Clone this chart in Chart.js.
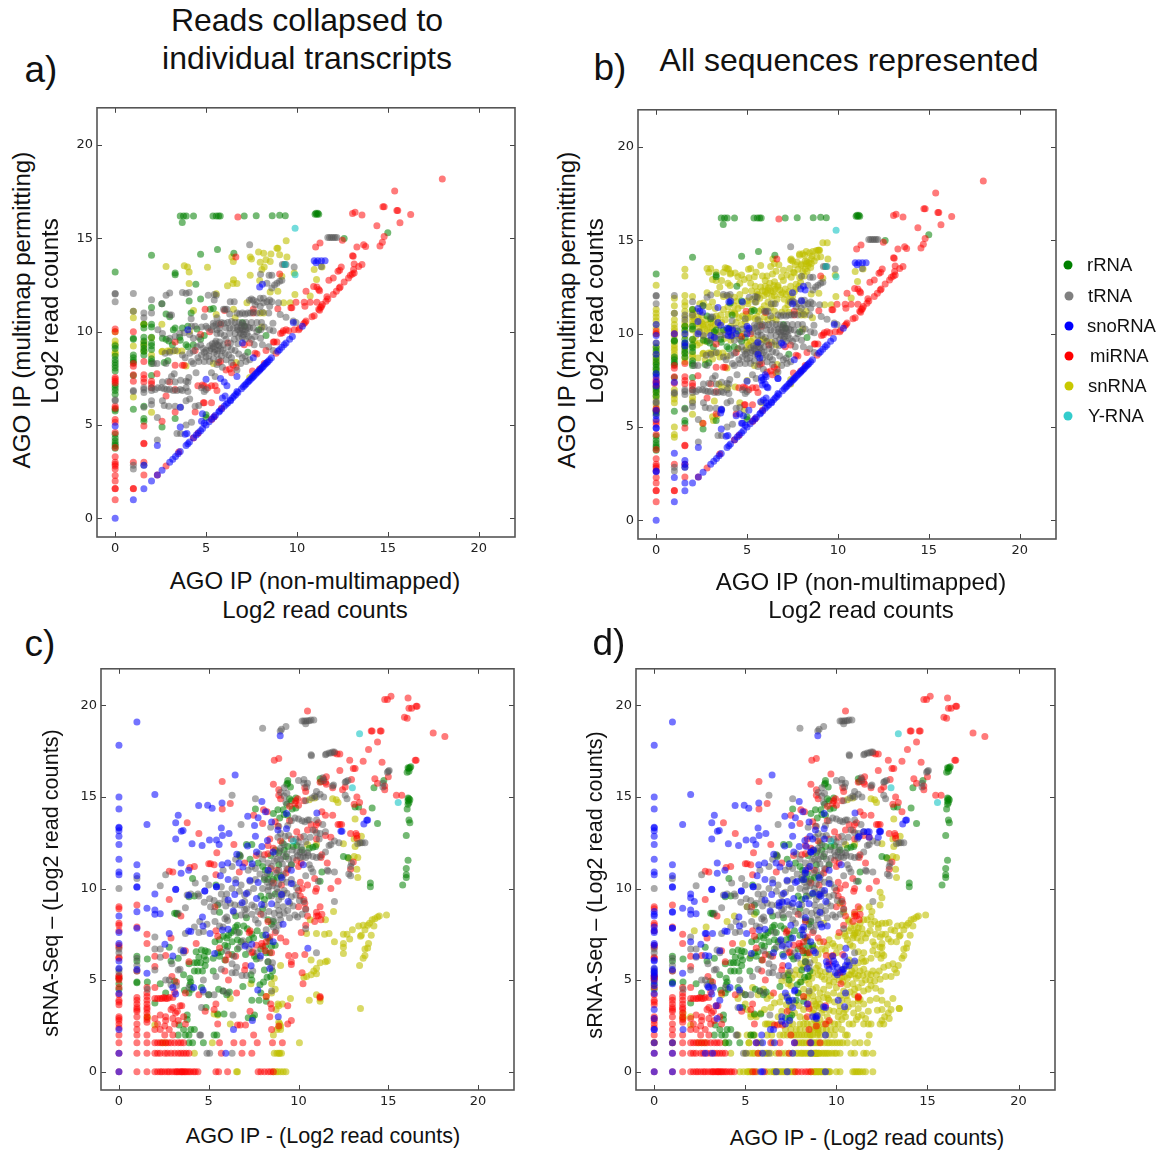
<!DOCTYPE html>
<html lang="en">
<head>
<meta charset="UTF-8" />
<title>AGO IP read counts</title>
<style>
  html, body { margin: 0; padding: 0; background: #fff; }
  #page { position: relative; width: 1160px; height: 1153px; overflow: hidden; font-family: 'Liberation Sans', Arial, sans-serif; color: #111; }
  canvas { position: absolute; }
  .txt { position: absolute; white-space: nowrap; transform: translate(-50%, -50%); }
  .rot { transform: translate(-50%, -50%) rotate(-90deg); }
  .dot { position: absolute; width: 9px; height: 9px; border-radius: 50%; transform: translate(-50%, -50%); }
  .leg { position: absolute; font-size: 18.5px; white-space: nowrap; transform: translateY(-50%); }
</style>
</head>
<body>
<div id="page"></div>
<script src="https://cdn.jsdelivr.net/npm/chart.js"></script>
<script>
// tick labels
const tickValues = [0, 5, 10, 15, 20];

// legend
const legendNames = ['rRNA', 'tRNA', 'snoRNA', 'miRNA', 'snRNA', 'Y-RNA'];

// panels a and b share most of their points, b only adds to them
const abRrna = [[3.58,16.2],[3.76,16.2],[3.91,16.2],[4.31,16.2],[5.38,16.2],[5.56,16.2],[5.69,16.2],[5.78,16.2],[7.1,16.2],[7.76,16.22],[8.64,16.22],[9.05,16.24],[9.36,16.22],[3.69,15.85],
  [11,16.3],[11.05,16.35],[11.1,16.3],[11.15,16.35],[11.2,16.3],[12.6,15],[15,15.3],[2,14.1],[0,13.2],[4.7,14.15],[5.63,14.4],[6.53,14.2],[3.3,13.15],[3.3,13.05],[4.44,12.55],[2.57,11.5],[4.07,11.65],[4.7,11.75],[2,11.3],[2.8,10.95],[3,10.8],[4.18,11],[5.23,11.2],[5.4,11.25],
  [1.58,10.4],[2,10.4],[2,10.25],[1.58,10.2],[3.2,10.1],[3.3,10.2],[3.7,10.2],[4,10.3],[4.5,10.15],[7,10.5],[7.1,10.3],
  [0,8.5],[0,8.35],[0,8.2],[0,8.05],[0,7.9],[0,7],[0,6.85],[0,6.65],[0,5.85],[0,5.75],[0,4.3],[0,4.15],[0,4],[0,3.9],[0,3.75],[1,9.6],[1,9.65],[1,8.6],[1,8.45],[1,8.35],[1,7.65],[1,5.85],[1.58,9.7],[1.58,9.5],[1.58,9.3],[1.58,9.1],[1.58,8.95],[1.58,6],[1.58,5.35],[1.58,5.2],[2,9.7],[2,9.4],[2,9.25],[2,8.4],[2,8.3],[2,7.65],[2.58,4.9],[2.6,9.65],[2.8,9.6],[2.95,9.5],[2.7,8.35],[2.9,8.45],[3.15,9.3],[3.55,9.7],[3.58,9.55],[3.9,9.3],[4,9.2],[4.3,9.3],[3.3,5.35],[4.7,9.6],[4.9,9.8],[5,5.55],[5,5.4],[7.3,8.9],[7.9,10.1],[8.3,9.8],[0,9.1],[0,9.25],[0,8.7],[0,7.15],[0,4.5],[1,8.75],[1.58,8.75],[2,9.05],[2,8.55]];
const abTrna = [[11.7,15.05],[11.8,15.05],[11.9,15.05],[12,15.05],[12.1,15.05],[12.2,15.05],[7.4,14.66],[9.2,13.6],[9.3,13.6],[9.4,13.6],[9.85,13.47],[11.34,13.5],[8,13.08],[8.47,13.03],[8.62,13.03],[9.17,12.76],[9.05,12.7],[8.9,12.6],[8.77,12.5],[8.62,12.35],[8.35,12.6],[0,12.05],[0,12.02],[0,11.6],[1,12.05],[2,11.72],[3,12.07],[2.8,11.96],[3.7,12.1],[3.9,12.06],[4.07,12.1],[5.12,11.96],[5.45,12],[5.56,11.96],[5.45,11.7],[2.57,11.5],[6.33,11.6],[6.55,11.6],
  [7.39,11.69],[7.5,11.75],[7.6,11.69],[7.8,11.6],[7.98,11.8],[8.16,11.8],[8.35,11.6],[8.5,11.7],[8.62,11.6],[8.99,11.55],[7.98,11.37],[8.16,11.55],[8.5,11.37],[7.7,11.45],[6.7,11],[6.85,10.95],[7,11],[7.15,10.95],[7.3,11],[7.45,11],[7.6,11.05],[7.8,11],[8.1,11.05],[8.45,11],[5.96,11.2],[6.05,11.2],[6.15,11.2],[6.3,10.95],[5.6,10.75],[9.08,10.93],[9.4,10.78],[9.8,10.57],[9.95,10.5],[8.68,10.45],[5.4,10.45],[5.55,10.4],[5.7,10.45],[5.85,10.5],[6,10.45],[6.2,10.5],[6.4,10.55],[6.6,10.5],[6.8,10.5],[7,10.45],[7.2,10.5],[7.5,10.5],[7.8,10.5],[8.05,10.5],
  [1,11.1],[1.58,10.75],[1.58,11],[2,11],[3,10.9],[3.1,10.9],[4.18,10.7],[4.9,10.8],[4.2,10.3],[4.4,10.3],[4.75,10.25],[5,10.3],[5.1,10.2],[5.3,10.1],[5.4,10.3],[5.6,10.1],[5.75,10.2],[6.1,10.2],[6.3,10.2],[6.5,10.2],[6.7,10.25],[6.75,10.1],[6.9,10.2],[7,10.1],[7.1,10],[7.2,10.1],[7.25,9.9],[6.9,9.9],[6.8,9.7],[7,9.7],[6.6,9.9],[6.3,9.9],[6,9.8],[5.8,9.9],[5.6,9.9],[7.4,10.2],[7.6,10.2],[7.8,10],[8,10.1],[8.2,10.25],[8.5,10.1],[8.7,10.05],[5.5,9.4],[5.6,9.3],[5.7,9.25],[5.4,9.2],[5.3,9.1],[5.5,9.05],[5.65,9],[5.8,9.1],[5.9,9],[5.45,8.9],[5.6,8.8],[5.2,9],[5,9],[4.9,8.9],[4.75,8.75],[4.55,8.6],[6.2,9.2],[6.4,9.05],[6.6,9],[6.8,8.8],[7,8.6],[7.15,8.7],[7.4,8.5],[6.4,8.6],[6.1,8.5],[5.7,8.5],[5.2,8.4],[4.9,8.4],[4.6,8.4],[4.3,8.3],[6.4,8.35],[5.9,8.1],[5.3,7.8],[5.5,7.6],[4.45,7.8],[3.25,7.75],[3.1,7.6],[2.8,8.3],[2.3,8.3],[2.1,8.3],[7.65,9.3],[8.1,9.3],[8.45,9.2],[8.7,9],
  [0,6.3],[0,6.35],[1,6.85],[1,6.8],[1.58,7],[1.58,6.9],[1.58,6.75],[1.58,5.95],[2,7],[2,6.85],[2.2,6.9],[2.35,7],[2.55,7],[2.7,6.95],[2.85,6.9],[3,6.9],[3.2,6.85],[3.4,6.85],[3.58,6.9],[3.7,6.85],[2.6,7.3],[2.9,7.35],[3.3,7.3],[3.6,7.4],[3.9,7.35],[4,7.3],[3.9,7],[4,6.8],[5,6.9],[4.75,7],[4.9,6.8],[4.1,6.4],[3.9,6.3],[2,6.3],[2.6,6.3],[2.7,6.05],[2.95,6],[3.3,6],[3.6,5.95],[4.4,6],[4.6,6.05],[2.32,5.4],[3.9,5],[4.2,5.15],[3.4,4.55],[3.6,4.55],[2.32,4.2],[1,2.85],[1,2.65],[1.58,2.85],[2,6.1],
  [5.55,9.5],[5.35,9.35],[5.2,9.25],[5.75,9.45],[5.95,9.3],[6.1,9.6],[6.35,9.4],[6.55,9.6],[6.75,9.35],[7.15,9.6],[7.35,9.75],[7.5,9.6],[7.7,9.75],[8,9.65],[6.95,10.35],[7.15,10.3],[6.85,10.05],[7.05,9.85],[7.3,10.25],[4.5,9.2],[4.7,9.3],[4.85,9.1],[4.1,8.85],[4.3,8.95],[3.7,8.75],[3.3,9],[3,8.9],[2.75,8.85],[3.85,8.6],[4.2,8.4],[4.05,7.55],[6.9,8.3],[7.2,8.4],[6.7,7.95],[5.6,8.25],[5.85,8.7],[6.05,8.85],[6.25,8.75],[5,8.65],[5.15,8.7],[5.4,8.55],[4.6,9.7],[4.3,9.65],[4.1,9.85],[3.8,9.95],[3.55,9.9],[3.3,9.75],[3,9.65],[2.6,9.9],[2.35,10.1]];
const abSnorna = [[10.95,13.8],[11.05,13.7],[11.15,13.8],[11.35,13.8],[11.55,13.8],[7.95,12.4],[8.1,12.55],[0,4.95],[4,10.1],[7,9.4],[7.6,8.6],[9.8,10.5],[5,7.45],[5.8,7.5],[6,7.3],[6.15,7.1],[6.7,7.6],[6.7,6.8],[5.9,6.45],[6.05,6.55],[6.35,6.3],[3.58,5.95],[4.8,5.6],[4.75,5.2],[4.9,5.1],[3.58,4.9],[3.85,4.5],[3.95,4.55],[2.32,3.9],[1.58,2.85],[1.58,1.58],[1,1],[0,0],[2,2],[2.32,2.32],[2.58,2.58],[3,3],[3.17,3.17],[3.32,3.32],[3.46,3.46],[3.58,3.58],[3.9,3.9],[4,4],[4.09,4.09],[4.32,4.32],[4.46,4.46],[4.58,4.58],[4.7,4.7],[4.81,4.81],[5,5],[5.17,5.17],[5.32,5.32],[5.43,5.43],[5.52,5.52],[5.7,5.7],[5.75,5.75],[5.86,5.86],[6,6],[6.11,6.11],[6.2,6.2],[6.34,6.34],[6.46,6.46],[6.55,6.55],[6.64,6.64],[6.75,6.75],[6.95,6.95],[7.05,7.05],[7.13,7.13],[7.2,7.2],[7.3,7.3],[7.36,7.36],[7.44,7.44],[7.52,7.52],[7.58,7.58],[7.64,7.64],[7.72,7.72],[7.8,7.8],[7.87,7.87],[7.94,7.94],[8,8],[8.07,8.07],[8.13,8.13],[8.2,8.2],[8.28,8.28],[8.35,8.35],[8.41,8.41],[8.5,8.5],[8.6,8.6],[8.95,8.95],[9.04,9.04],[9.17,9.17],[9.3,9.3],[9.4,9.4],[9.6,9.6],[9.75,9.75],[10.3,10.3]];
const abMirna = [[18,18.18],[15.38,17.54],[14.73,16.7],[14.8,16.7],[15.5,16.5],[15.55,16.5],[16.26,16.28],[13.58,16.26],[13.2,16.4],[13.06,16.33],[14.4,15.68],[15.67,15.84],[14.8,15.1],[14.7,14.8],[14.57,14.6],[12.5,14.9],[13.3,14.54],[13.67,14.66],[13.78,14.57],[11.27,14.75],[11.03,14.54],[13.06,14.07],[13.1,14.05],[13.15,13.63],[13.58,13.6],[13.4,13.49],[12.44,13.47],[12.26,13.24],[12.35,13.3],[13.12,13.33],[13.15,13.15],[13.05,13.1],[12.94,13.03],[12.84,12.88],[12.6,12.67],[12,12.88],[11.76,12.76],[12.33,12.35],[12.38,12.4],[12.17,12.17],[12,12],[11.65,11.87],[11.7,11.75],[11.6,11.64],[11.4,11.46],[11.3,11.3],[11.35,11.35],[11.2,11.2],[11.25,11.15],[10.95,10.85],[10.83,10.8],[10.5,10.57],[10.45,10.5],[10.37,10.43],[10.15,10.18],[10.1,10.1],[10.92,12.42],[11.1,12.4],[11.2,12.26],[11.25,12.2],[10.5,12.17],[9.95,11.58],[10.4,11.58],[10.44,11.37],[10.73,11.58],[11.1,11.58],[9.67,11.28],[9.72,11.28],[9.05,13.1],[8.95,11.23],[6.64,14],[6.75,16.15],[6.02,11.14],[7.6,11],[7.6,11.2],[4.95,11.2],
  [0,10.15],[0,10],[1,10],[0,7.55],[0,7.45],[0,7.35],[0,7.25],[0,6],[0,5.9],[0,5.3],[0,5.15],[0,4.6],[0,3.8],[0,3.3],[0,3],[0,2.9],[0,2.8],[0,2.65],[0,2.3],[0,2],[0,1.6],[0,1.58],[0,1],[1,8.3],[1,8.15],[1,7.7],[1,7.35],[1,3],[1,1.58],[1,1.6],[1.58,8.4],[1.58,7.7],[1.58,7.5],[1.58,7.3],[1.58,4.95],[1.58,4],[1.58,4.02],[1.58,3],[1.58,2.32],[2,7.35],[2,7.2],[2,7],[2.3,7.75],[2.58,5.2],[2.8,6.55],[3,7.3],[3.3,6.9],[3.3,8.2],[3.7,8.2],[3.8,8.2],[3.3,5.7],[3.3,9.45],[4.4,9],[4.55,7.1],[4.8,7.15],[4.9,7.1],[5.1,7],[5.3,7.1],[5.5,7.1],[5.6,6.85],[4.4,5.7],[4.85,6.2],[4.9,6.2],[5.3,6.2],[4.7,9.85],[5.2,10],[5.8,10.4],[6.2,9.4],[5.7,8.35],[5.8,8.4],[6.1,7.95],[6.4,7.8],[6.3,8],[6.65,8.1],[6.5,8.2],[7.1,9.3],[7.4,9.4],[7.7,8.85],[7.8,8.8],[8.3,9],[8.7,9.45],[8.75,9.45],[8.9,9.45],[9.1,9.9],[9.2,9.95],[9.25,10.05],[9.4,10.1],[9.55,10.05],[9.85,10.1],[8.2,8.3],[7.55,7.9],[7.95,8],[3.5,3.55],[4.3,4.3],[4.55,4.55],[5.3,5.3],[5.85,5.9],[2.8,2.8],[2.32,2.32],[5.45,5.45],[8.85,8.85]];
const abSnrna = [[9.41,14.88],[8.9,14.47],[8.95,14.48],[7.89,14.27],[8.17,14.2],[8.57,14.17],[9.05,14.13],[9.45,14],[7.43,14],[7.5,13.9],[6.42,14],[6.5,13.77],[7.98,13.72],[8.3,13.86],[8.53,13.77],[8.2,13.47],[8.07,13.33],[2.8,13.5],[3.8,13.54],[3.98,13.47],[4.07,13.2],[5.08,13.45],[7.43,13.03],[7.95,12.74],[9.17,12.97],[4.07,12.58],[6.18,12.47],[6.51,12.78],[6.48,12.58],[6.7,12.58],[9.85,13.15],[10.95,13.33],[11.38,13.47],[11.08,12.8],[8.95,12.17],[8.53,12.13],[9.89,12],[5.56,12.03],[10.73,11.92],[7.25,11.55],[9.27,11.55],[9.63,11.55],[1,11.1],[1,10.75],[4.31,11.14],[1.58,10.4],[2.57,10.4],[6.51,11.2],[5.56,10.93],[6.6,10.75],[7.98,11],[8.17,11],
  [2.57,8.93],[2.6,8.95],[2.88,8.97],[3,8.97],[3.2,8.97],[3.43,8.97],[3.67,8.97],[2,9.68],[2,8.75],[4.09,10.03],[5.41,8.3],[3.9,8.17],[6.66,8.35],[7.4,7.55],[2,5.68],[8.07,10.25],[0,10],[0,9.5],[0,9.32],[0,8.9],[0,8.8],[1,9.24],[1,6.5],[1.58,10.4],[1.58,9.41],[1.58,9.23],[1.58,8.97]];
const abYrna = [[9.9,15.55],[9.35,13.6],[9.9,13.05]];

// what panel b shows on top of panel a
const bExtraSnrna = [[9.17,14.88],[8.99,14.48],[8.8,14.45],[8.62,14.4],[8.44,14.34],[8.26,14.4],[8.07,14.29],[7.89,14.2],[8.53,14],[8.26,13.75],[8.35,13.65],[7.98,13.65],[7.8,13.45],[7.6,13.25],[8.4,13.8],[8.2,13.9],[7.75,13.85],[7.4,13.95],[7.55,13.3],[7.2,13.15],[6.9,13.05],[7,12.85],[6.4,13.2],[6.6,13.35],[6.3,13.6],[5.75,13.65],[5.5,13.3],[5.85,13.1],[6.1,13.1],[6,12.85],[5.4,13.05],[4.5,13.05],[4.35,13.25],[4.1,13.25],[3.9,13.5],[3.7,13.3],[3.3,13.3],[3,13.5],[2.9,13.3],[1.58,13.45],[1.58,13.1],[3.1,12.9],[3.3,12.85],[3.6,12.85],[3.95,12.7],[4.6,12.7],[4.85,12.9],[5.1,13],[5.2,12.7],[5.45,12.55],[5.55,12.25],[5.85,12.3],[6,12.25],[6.15,12.35],[6.3,12.3],[6.45,12.25],[6.55,12.4],[6.7,12.5],[6.85,12.1],[6.95,12.2],[7.1,12.4],[7.4,12.55],[7.7,12.65],[7.85,12.55],[7.6,12.25],[7.5,12],[7.3,11.75],[7.05,11.85],[5.95,12.05],[5.7,11.9],[5.5,11.7],[5.25,12.3],[4.9,12.3],[4.6,12.1],[4.3,11.95],[4,12],[3.7,12],[2.8,12.2],[1.58,12.05],[1,11.9],[0,12.6],[0,11.3],[0,11.1],[0,10.9],[0,10.7],[0,10.5],[0,10.3],[1,11.5],[1,10.5],[1,10.3],[1,10.15],[1.58,11.5],[1.58,11.2],[1.58,10.9],[1.58,10.6],[1.58,10.1],[2,11.3],[2,11.1],[2,10.9],[2,10.7],[2,10.5],[2,10.2],[2.2,11.2],[2.3,10.9],[2.4,10.7],[2.5,11],[2.6,10.5],[2.75,10.75],[2.85,10.5],[3,10.6],[3.1,10.3],[3.25,10.5],[3.4,10.8],[3.55,11],[3.7,11.3],[3.95,11.45],[4.3,11.5],[4.5,11.35],[4.7,11.5],[4.95,11.05],[5.2,10.9],[5.45,10.8],[5.65,11.2],[5.8,11.3],[5.95,11.5],[6.15,11.7],[6.3,11.4],[6.45,11.6],[7.1,11.35],[7.3,11.15],[7.9,11.2],[8.25,11.2],[8.6,10.85],[4.9,10.65],[4.7,10.5],[4.4,10.6],[4.1,10.4],[3.85,10.2],[3.5,10.1],[3.2,9.85],[3,9.7],[2.7,9.6],[2.4,9.5],[2.25,9.4],[2.1,9.6],[2,9.3],[2,8.9],[2.3,8.7],[2.7,8.6],[3.1,8.65],[3.5,8.75],[3.9,8.8],[4.1,9.65],[4.3,9.9],[4.6,9.9],[4.85,10],[5.2,9.6],[5.35,9.75],[5.1,9.4],[4.5,9.2],[5.7,9.65],[6.05,9.6],[6.35,9.55],[6.6,9.4],[5.95,10.9],[6.15,10.75],[3.45,7.3],[3.6,7.15],[3.95,7.1],[4.35,7.15],[4.6,6.3],[4.85,5.9],[3.1,5.55],[3.15,5.35],[3.35,5.6],[2.55,5.2],[1,5],[1,4.6],[1,4.45],[0,9],[0,8.6],[0,8.4],[0,8.1],[0,7.8],[0,7.1],[0,6.9],[0,6.7],[0,6.5],[0,6.2],[0,5.95],[0,5.7],[1,9.9],[1,9.6],[1,9.4],[1,9.1],[1,8.9],[1,8.7],[1,7],[1,6.7],[1,6.3],[1.58,8.7],[1.58,8.5],[2,6.6],[2,6.4],[5.8,6.3],[6.6,7.9],[7.4,7.3],[5,7.5],[3.2,6.4],
  [2.1,10.8],[2.2,10.55],[2.35,10.35],[2.5,10.6],[2.65,10.25],[2.8,10.15],[2.95,10.35],[3.15,10.65],[3.3,10.95],[3.45,10.45],[3.6,10.6],[3.8,10.75],[3.95,11.05],[4.15,11.15],[4.35,11.05],[4.55,10.85],[4.75,10.95],[5.05,10.85],[5.3,11.3],[5.05,11.6],[5.3,11.85],[5.6,12.1],[5.75,12.5],[6,12.55],[6.25,12.7],[6.1,12.15],[6.35,12],[6.5,12.05],[6.65,11.85],[6.8,12.35],[7.15,12.1],[7.3,12.25],[7.4,12],[7.7,12.4],[7.9,13],[8.15,13.1],[8.3,13.35],[8.5,13.55],[8.7,13.9],[8.85,14.1],[7.65,13.7],[7.35,13.5],[7,13.4],[6.75,13.7],[5.2,13.5],[4.7,13.15],[2.4,10.1],[2.2,9.9],[2.6,9.85],[2.95,10.05],[3.2,10.05],[3.75,9.75],[5,9.55],[4.95,9.2],[5.9,9.7],[5.7,10.65],[6.4,10.85],[6.9,11.15],[4.45,11.75],[3.25,11.35],[2.9,11.45],[3.1,11.7],[2.6,11.65],[2.4,11.6],[1.58,9.9],[1.58,11.7],[2,12],[3.35,12.15],[3.5,12.5],[5,11.75]];
const bExtraSnorna = [[2.3,11.35],[2.4,11.2],[2.55,11.15],[3.4,11.4],[4,11.7],[4.1,11.75],[4.75,11.7],[7.5,12.2],[8.2,12.35],[7.5,11.6],[8,11.75],[2.3,10.65],[3.4,10.6],[3.55,10.45],[3.9,10.3],[4,10.25],[4.2,10.2],[5,10.4],[5.1,10.3],[0,10.5],[0,9.9],[1,10],[1.58,10],[2.3,10],[3,9.9],[3.2,9.8],[3.95,9.9],[4.15,9.9],[4.4,10],[5,10],[5.6,9.55],[0,9.5],[0,8.9],[0,7.85],[0,7.7],[0,7.4],[0,7.2],[0,5.9],[0,5.6],[0,5.4],[0,4.95],[0,2.6],[0,2.65],[1,7.4],[1,3.6],[1,2.3],[1.58,9.5],[1.58,9.35],[1.58,3.2],[1.58,3],[1.58,2],[3.6,5.9],[3.55,5.75],[4.4,5.6],[4.6,5.7],[5.1,5.9],[4.7,5.2],[5.75,6.35],[6.05,6.3],[5.8,7.65],[5.9,7.55],[6,7.8],[6.05,7.7],[5.85,7.25],[6.1,7.15],[6.7,7.6],[5.6,8.9],[5.7,8.7],[6.9,9.5]];

// panels c and d share most of their points, d only adds to them
const cdRrna = [[16.1,16.6],[16.15,16.55],[16.2,16.6],[16.25,16.65],[16.05,16.35],[16.15,16.4],[11.2,16.0],[11.25,15.85],[9.4,15.9],[9.4,15.75],[9.35,15.7],[9.55,15.55],[14.75,15.9],[14.2,15.5],[9.5,14.9],[9.6,14.8],[9.85,14.95],[9.35,14.6],[9.65,14.35],[9.85,14.4],[9.15,14.3],[7.6,14.35],[14.1,14.4],[13.15,14.45],[13.35,14.45],[16.1,14.95],[16.15,14.9],[16.1,14.8],[16.2,14.85],[16.15,14.7],[16.1,14.6],[16.05,14.35],[16.15,13.75],[16.2,13.6],[14.4,13.55],[16,12.9],[12.5,11.75],[12.75,11.7],[16.1,11.55],[16,11.1],[16,10.75],[16,10.6],[15.8,10.2],[14,10.3],[14,10.1],[11.3,10.9],[11.2,10.4],[4.1,10.55],[5.4,10.2],[6.7,11.85],[6.75,11.75],[7.1,12.4],[7.4,12.4],[8.9,11.3],[9.6,11.3],[9.4,12.3],[9.7,12.3],[9.9,12.35],[10.2,12.1],[10.6,12.2],[10.8,12.25],[10.95,12.3],[9.3,11.75],[8.45,11.8],[8.4,10.8],[8.1,10.5],[8.3,10.5],[8.6,10.5],[8.8,10.6],[9,10.7],
  [3.1,8.65],[3.25,8.6],[3.9,9.55],[4.2,9.6],[5.5,9.1],[5.6,8.7],[6.5,8.5],[7.1,8.4],[7.9,9.6],[8,8.9],[8.3,8.3],[8.5,8.05],[8.6,8.2],[6.5,7.9],[6.6,8],[6.4,7.7],[6.25,7.6],[6.1,7.45],[6,7.3],[5.8,7.4],[5.6,7.2],[5.35,7.1],[6.3,7.1],[6.6,7.2],[6.8,7.1],[7.15,7.8],[7.5,7.3],[7.7,7.7],[8,7.45],[8.3,7.3],[8.4,7.15],[8.5,6.85],[8.7,6.9],[5.25,6.2],[5.5,6.5],[5.7,6.55],[5.6,6.3],[5.9,6.1],[6.6,6.7],[7.05,6.4],[8.2,6.5],[7.55,6.3],[7.65,6.15],[4.2,5.95],[4.35,5.95],[4.55,5.95],[4.85,6.1],[4.75,6.3],[4.8,5.8],[4.65,5.5],[4.2,5.5],[4.4,5.5],[3.9,5.9],[3.6,5.3],[3.95,5.1],[4,4.9],[3.95,4.75],[4.05,4.5],[3.9,4.3],[4.6,4.6],[5.55,4.5],[5.8,4.4],[6,4.2],[6.9,4.65],[7.4,5],[7.35,5.3],[7.85,4.75],[8.05,4.9],[8.25,5.15],[8.45,5.2],[7.9,4.3],[7.8,3.9],[8.2,3.85],[7.4,3.9],[7.45,2.95],[7.55,3.1],[7.2,2.95],[3.8,3.1],[3.8,2.85],[3.35,2.55],[3.6,2.3],[4,2.3],[4.2,2.3],[3.3,2],[3.7,2],[3.9,2],[5.3,2],[5.45,2],[3.9,1.58],[4.1,1.58],[4.7,1.58],[3.1,4.95],[3.65,4.45],[2.3,4.8],[2.6,4.3],[2,3.75],[1,6.3],[1,6.05],[1,4.9],[1,4.85],[1.58,4.9],[1.58,6.15],[2.9,6.05],[3.3,6.2],[4.3,6.55],[4.8,6.6],[5.25,5.5],[5,4.2],[6.15,4.35],[4.85,3.5],[5.5,3.15],[5.85,3.15],[2.8,6.8],[3.2,8.65],[0,4.8],[0,5.1],[0,4.5],
  [8.6,14.1],[8.85,14.3],[9.2,14.05],[9.4,14],[8.95,13.85],[9.1,12.5],[8.7,12.1],[8.9,11.95],[9.2,12.1],[8,11.2],[8.15,11],[7.75,11.4],[7.3,11.6],[8.1,9.4],[8.35,9.6],[8.7,9.7],[7.4,7.5],[6.95,7.95],[6.7,7.6],[6.05,6.85],[5.9,6.9],[6.3,6.4],[7.25,7.2],[7.9,6.7],[8.15,6.85],[8.4,6.5],[8.3,6],[8.55,5.5],[8.1,5.55],[4.95,6.55],[4.6,6.65],[4.45,6.25]];
const cdTrna = [[10.2,19.15],[10.3,19.15],[10.4,19.15],[10.5,19.17],[10.6,19.17],[10.7,19.2],[10.85,19.2],[10.4,19],[9.3,18.85],[9.05,18.7],[8,18.75],[8.98,18.6],[11.5,17.3],[11.55,17.35],[11.7,17.4],[11.8,17.4],[11.9,17.45],[12,17.45],[10.7,17.3],[10.72,17.25],[10.3,15.95],[11.35,16.05],[11.4,15.9],[15,16.4],[15.05,16.45],[14.95,16.35],[10,15.9],[10.3,15.75],[10.5,15.75],[10.45,15.55],[11.9,15.6],[11.95,15.65],[12.6,15.8],[12.65,15.85],[12.75,15.9],[14.7,15.75],[14.7,15.55],[11,15.3],[10.9,15.05],[11,15],[10.75,14.95],[11.2,15.15],[11.4,15],[9.35,15.2],[9,15.25],[9.2,15.05],[10.4,14.8],[12.6,15.1],[12.7,14.9],[9.2,15.5],[7.6,14.9],[6.3,15.1],[9.3,14.7],[9.8,13.85],[10,13.8],[10.2,13.7],[10.35,13.65],[10.5,13.75],[10.6,13.75],[11,13.75],[11.35,13.5],[9.6,13.7],[9.4,13.45],[8.9,13.4],[8.45,13.35],[6.8,13.5],[9,13],[9.25,12.85],[9.45,12.9],[10.8,13.2],[11,13.05],[11.2,13],[11.5,13.1],[11.15,12.7],[10.65,12.8],[10.4,12.55],[10,12.55],[9.65,12.1],[9.9,12],[10.1,12],[10.3,11.95],[10.5,11.95],[10.8,11.75],[11,11.7],[11.2,11.75],[11.5,12],[11.7,12.35],[11.8,12.4],[12,12.6],[12.25,12.5],[13.3,12.45],[13.45,12.5],[13.55,12.5],[13.7,12.5],[9.35,11.9],[9,11.6],[8.8,11.6],[8.65,11.5],[7.8,11.9],[6.75,11.8],[6.5,11.6],[6.3,11.2],[7.2,11],[7.4,11.2],[8.5,11.2],[8.9,11],[10.6,11.3],[10.7,11.1],[10.8,10.9],[12.8,10.8],[12.9,10.7],[12.9,11.2],[12.95,11.4],[12,10.9],[11.6,11],[11.65,10.95],[0,10],[1,10.55],[2.3,10.15],[2.6,10.75],[4.25,10.3],[4.8,10.55],[5.8,11],[5,10.2],[5.7,10.1],[6.5,10.5],[6.8,10.2],[7.3,10.4],[7.6,10.5],[8.1,10.6],[8.5,10.4],[9.1,10.5],[9.6,10.5],[10.4,10.7],[11.1,10.4],
  [3.8,9.65],[4,9.7],[4.4,9.7],[4.45,9.6],[5.1,9],[5.3,8.75],[5.7,9.7],[5.9,9.4],[6,9.7],[6.3,10],[6.7,9.85],[7,9.65],[7.2,9.8],[7.5,10],[8,10],[8.3,9.9],[8.5,9.6],[8.9,9.4],[9.1,9.7],[9.2,9.9],[8.8,10],[8.35,10.1],[7,9.3],[7.4,9.1],[7.55,9],[7.1,8.9],[7,8.85],[8.1,9.1],[8.8,9.1],[8.9,8.8],[9.15,9],[9.4,8.8],[9.5,8.4],[9.8,8.55],[9.95,8.45],[10.2,8.6],[10.4,8.85],[9,8.3],[8.6,8.3],[8.9,8],[8.75,7.7],[8.6,7.9],[8.2,7.75],[7.6,8.3],[7.75,8.1],[6.8,8.55],[6.4,8.7],[5.9,8.35],[5.35,8.2],[5.6,7.95],[5.8,7.9],[6,8.45],[6.05,8.25],[4.9,8.05],[4.5,8.2],[4.2,7.9],[4.45,7.6],[4.7,7.65],[3.7,7.55],[3.7,8.95],[3.3,8.65],[6.6,7.6],[6.9,7.15],[7.05,6.95],[7.25,6.7],[7.7,6.5],[7.85,6.2],[8.3,6],[8.55,5.95],[6,6.6],[6.4,6.3],[6.7,6.8],[6.3,5.9],[6.55,5.7],[2,7.35],[2,6.7],[2.3,6.7],[2.3,6.25],[2.95,5.9],[3.4,5.6],[3.6,6.5],[3.45,6.65],[3.3,5.55],[2,5.55],[2.6,5],[2.8,5],[2.9,4.75],[3.2,4.7],[3.9,4.6],[4.7,5],[5.4,5.2],[5.7,5.6],[6.3,5.4],[6.5,5.4],[6.85,5.25],[7.1,5.25],[7.45,5.5],[5.8,4.4],[6.05,4.3],[4.7,4.35],[5,4.2],[5.3,4.2],[8.5,4.4],[4.6,3.5],[6.35,3.1],[4.5,2],[4.55,2],[6.3,1],[5.05,1],[4.9,1],[1,6.2],[1,5.8],[1,5.5],[1.58,4.5],[0,6.7],[0,6.5],[0,5.6],[0,5.45],[8.5,5.7],[11,6.5],[10.4,7.8],[12,9.3],
  [9,12.2],[9.2,12.4],[8.85,12.8],[8.7,11.9],[8.95,12.05],[9.15,11.75],[9.45,11.6],[9.7,11.65],[9.95,11.8],[10.1,11.7],[10.25,11.75],[10.4,11.7],[10.55,11.8],[10.15,12.25],[9.85,12.7],[10.3,12.85],[9.6,11.3],[9.35,11.1],[9.1,11.35],[8.3,11.4],[8,11.6],[7.6,11.1],[7.85,10.8],[8.25,10.85],[8.75,10.85],[9.15,10.75],[9.35,10.35],[9.7,10.25],[9.9,10.05],[8.9,10.25],[8.55,10.15],[8.25,10.35],[8.85,9.8],[9.05,9.55],[9.35,9.75],[9.6,9.55],[9.85,9.65],[10.05,9.35],[10.3,9.3],[9.7,9.05],[9.5,9.2],[9.2,8.65],[8.95,8.55],[8.65,8.65],[8.35,8.75],[8.05,8.55],[7.75,8.75],[7.4,8.6],[7.05,8.55],[6.75,9.1],[6.45,9.1],[6.2,9.2],[5.95,9.05],[5.6,9.2],[5.3,9.35],[5.05,9.45],[4.75,9.25]];
const cdSnorna = [[0,17.83],[1,19.1],[0,15],[0,14.35],[0,13.3],[0,13.35],[0,13.15],[0,12.85],[0,12.4],[0,11.6],[0,10.9],[0,10.75],[1,11.3],[1,10.7],[1,10.1],[2,15.13],[1.56,13.5],[6.47,16.2],[3.3,14],[3.16,13.6],[3.47,13.13],[3.57,13.17],[3.16,12.7],[4.44,14.53],[4.94,14.55],[5.19,14.38],[5.74,14.67],[5.7,13.3],[5.76,12.9],[6.13,13],[5.43,12.65],[5.58,12.4],[5.04,12.65],[4.63,12.35],[4.07,12.45],[3.46,11.4],[3.46,10.83],[3.88,11],[5.74,11.3],[6.06,11.4],[7.96,14.75],[7.17,13.95],[7.75,13.86],[8.16,14.2],[7.55,13.45],[7.6,12.85],[7.16,12.33],[7.96,12.3],[8.27,12.62],[8.5,13.64],[9.33,14.1],[8.85,13.2],[9.33,13.26],[8.59,12],[6.56,11.87],[6.69,11.4],[6.9,11.18],[7.42,11.36],[7.66,12],[8.31,11],[10.26,11.3],[11.02,14.13],[12.36,13.13],[12.42,13.13],[13.8,13.73],[13.85,13.75],[13.64,13.53],[8.98,18.35],[9.6,11],[5.65,10.7],[6.08,10.5],[6.5,10.3],[7.29,10.45],[7.75,10.33],[9.05,10.6],[9.6,10.27],[5.43,10.1],[4.78,9.87],[3.16,9.96],
  [0,8.5],[1,10.07],[1,8.74],[1,7.83],[1.56,8.92],[2,8.83],[2,8.6],[2.3,8.63],[2,9.7],[3.16,9.95],[3.88,9.64],[4.78,9.87],[0,7.6],[0,7],[0,6.05],[0,5.65],[0,4.27],[0,2.3],[0,1],[0,0],[1,5.58],[1.56,5.38],[2.56,6.96],[2.8,7.55],[3.88,7.68],[4,7.65],[3.6,6.6],[3,6.32],[3,4.6],[3.16,4.24],[4.16,4.6],[4.68,7.95],[4.68,4.46],[4.65,8.45],[5.07,7.55],[5.33,6.45],[5.76,7.74],[6.08,7.78],[6.36,8.77],[6.08,9.37],[5.43,10.1],[6.45,9.67],[6.86,9.23],[7.1,9.73],[7.66,9.46],[7.94,9.13],[8.5,9.17],[9.05,9.67],[9.42,9.3],[9.14,8.05],[8.18,7.47],[8.59,7.09],[7.4,6.96],[7.03,6.87],[7.88,6.32],[7.36,5.78],[8.4,5.63],[7.73,4.46],[8.87,3],[7.43,2.79],[6.38,2.3],[5.95,1],[10.52,6.74]];
const cdMirna = [[16.1,20.4],[14.8,20.33],[14.95,20.33],[15.15,20.5],[16.6,19.95],[16.55,19.95],[16.3,19.85],[16.15,19.85],[15.9,19.35],[16.05,19.3],[14.05,18.6],[14.1,18.6],[14.55,18.6],[14.6,18.6],[17.5,18.5],[18.15,18.3],[14.4,18],[13.9,17.6],[10.5,19.7],[12,17.4],[12.15,17.35],[12.3,17.35],[8.65,17],[8.9,17.1],[12.85,17],[14.65,16.9],[13.6,16.95],[13.05,16.55],[13.15,16.55],[16.5,17],[16.55,17],[12.3,16.45],[9.7,16.25],[15,16.1],[14.4,15.75],[14.25,16],[11.55,16.1],[11.4,16],[11.5,15.8],[11.55,15.7],[11.2,15.8],[12.95,15.95],[8.9,15.4],[8.6,15.7],[8.9,15.1],[5.75,15.85],[14.8,15.6],[14.8,15.4],[15.45,15.1],[15.75,15.1],[10.35,15.5],[10.4,15.3],[11.9,15.5],[12.45,15.4],[12.6,15.55],[13.25,15],[13.4,14.7],[13.1,14.6],[9,14.9],[9.5,14.5],[9.85,14.8],[9.95,14.9],[9.8,14.65],[10,14.55],[10.3,14.8],[8.25,14.2],[8.05,14.3],[7.5,14],[8.7,13.65],[11.3,14.2],[11.5,14],[11.9,14],[13.6,14.2],[5.75,14.35],[6.2,14.65],[12.2,13.5],[12.3,13.5],[12.4,13.5],[8,13.55],[8.85,13.4],[3.8,13.6],[4.45,13],[9.9,13.1],[10.7,13.5],[11,13.5],[11.1,13.6],[10.9,13.2],[11.5,12.9],[11.8,12.8],[13.2,13],[13.25,12.9],[12.9,13],[13.25,12.75],[11,12.7],[6.4,12.4],[8.4,12.7],[8.3,12.35],[8.6,12.2],[5.45,11.95],[7.65,11.8],[8.1,11.85],[8.3,11.9],[9.9,11.55],[10.15,11.4],[11.3,11.85],[11.25,11.7],[11.6,11.4],[13.05,11.45],[12.9,11.05],[2.8,10.95],[3,10.9],[3.95,11.15],[4.2,11.2],[5,11.35],[5.1,11.35],[5.3,11.3],[7,11.4],[9.4,11.05],[10,11.2],[8.8,11],[9.3,10.85],[6.7,10.9],[5.4,10.75],[10.5,10.2],[10.2,10],[10.1,10.35],[10.9,10.55],[11,10],[11.8,10],[12.2,10.4],
  [0,9],[0,8.9],[1,9.1],[0,8.1],[0,8],[0,7.7],[1,7.9],[1.56,7.5],[0,6.9],[0,6.8],[1.56,7],[0,6.2],[0,6.25],[0,5.1],[0,5.2],[0,5.25],[0,5],[0,4.6],[0,4.2],[0,3.9],[0,3.8],[0,3.65],[0,3],[0,2.9],[0,2.8],[0,2.6],[0,2.4],[0,2],[0,1.58],[0,1],[0,0],[1,5.5],[1,4.05],[1,3.9],[1,3.7],[1,3.5],[1,3.4],[1,3.3],[1,3],[1,2.6],[1,2.3],[1,2],[1,1.58],[1,1],[1,0],[1.56,4.6],[1.56,4.3],[1.56,4.1],[1.56,3.9],[1.56,3.7],[1.56,3.4],[1.56,3],[1.56,2.85],[1.56,2.7],[1.56,2],[1.56,1.58],[1.56,1],[1.56,0],[2,6.3],[2,5.75],[2,4.6],[2,4],[2.3,4],[2.5,4.05],[2.6,4],[2.8,4.05],[3,4.05],[2.9,3.4],[3,3.5],[2.6,3],[2.3,3.1],[2,2.9],[2,2.3],[2.3,2.3],[2.6,2.8],[2.8,2.3],[3,2.9],[3.1,2.6],[3.3,2.8],[3.4,3.6],[3.5,3.6],[3.6,3],[3.7,2.6],[2.55,2],[3,2],[2,1.58],[2.3,1.58],[2.6,1.58],[2.9,1.58],[3.1,1.58],[3.3,1.58],[2,1],[2.3,1],[2.55,1],[2.9,1],[3.3,1],[3.6,1],[3.75,1],[3.9,1],[2,0],[2.3,0],[2.55,0],[2.8,0],[3.2,0],[3.35,0],[3.5,0],[3.65,0],[3.8,0],[4,0],[4.15,0],[4.4,0],[3.7,4.3],[3.2,4.9],[3.1,4.35],[2.95,5.2],[2.6,6.35],[2.9,7.3],[2.8,9.4],[3.45,8.5],[3.9,6],[3.7,6.6],[4.3,7],[4.45,4.2],[4.8,3.3],[5.4,3.7],[5.5,2.6],[5.6,1.58],[5.7,1],[5.4,0],[5.55,0],[6.05,0],[6.4,1.58],[6.1,5],[5.9,5.5],[5.95,6.1],[5.6,6.75],[5.5,7.4],[5.4,7.7],[5.35,9],[6.1,6.4],[6.5,6.3],[6.55,4.3],[7.05,5.8],[7,5.55],[7.4,6.5],[7.45,6.55],[7.3,7.7],[7.25,7.6],[7.65,6.9],[7.95,7],[8,6.85],[8.15,6.6],[8.4,7.35],[8.2,7.1],[8.5,6.5],[8.2,4.1],[8.45,3.7],[8.5,3.45],[8.4,3],[8.5,2.3],[8.9,2.5],[9.1,1.58],[7.5,2],[7.7,1.58],[6.9,1.58],[6.85,1],[7.4,1],[7.3,3.3],[7.05,2.55],[6.75,2.55],[6.6,2.55],[5.3,3.4],[8.55,1.58],[7.75,0],[7.9,0],[8.1,0],[8.3,0],[8.45,0],[8.6,0],[7.9,8.6],[8.3,8.2],[8.7,7.6],[9,7.3],[9.3,7.1],[9.4,3.6],[9.4,2.6],[9.6,2.8],[9.6,6],[9.6,5.85],[9.45,6.35],[9.8,6.35],[10.15,7.6],[10.4,8],[10.3,9.4],[10.35,9.2],[10.4,8.9],[10,9],[10,9.9],[10.35,6.4],[10.5,8.5],[10.9,8.2],[11,8.5],[11.3,8.6],[11.25,8.3],[11.2,9],[11.1,8.5],[10.2,5.4],[10.25,4.8],[11.2,4.1],[11.2,4.05],[10.95,9.85],[11,8.7],[10.1,9.6],
  [1.56,3.2],[1.56,3.5],[2.15,4],[2.4,4],[2.7,4],[2.15,2.6],[2.55,2.5],[3.25,3.3],[3.15,3.2],[2.15,1.58],[2.45,1.58],[2.75,1.58],[3.45,1.58],[3.6,1.58],[2.15,1],[2.7,1],[3.1,1],[3.45,1],[2.15,0],[2.4,0],[2.7,0],[2.95,0],[3.1,0],[3.25,0],[3.45,0],[3.55,0],[3.7,0],[3.9,0],[4.25,0],[9.5,13.7],[9,12.6],[8.45,11.1],[9.6,12.7],[10.1,12.8],[10.5,13.2],[8.6,10.3],[9.05,10.2]];
const cdSnrna = [[11.9,14.9],[10.6,14.85],[10.9,14.95],[12.1,14.85],[12.2,14.7],[13.15,13.8],[13.1,12.7],[13.5,12.85],[13.4,12.5],[13.15,12.3],[13.1,11.75],[13.3,11.7],[13.25,11.05],[13.3,10.6],[12.8,11.65],[12.5,12.45],[10.5,12.4],[11,12.4],[14.9,8.55],[14.5,8.5],[14.4,8.45],[14.25,8.35],[14.1,8.3],[13.95,8.1],[13.85,8],[13.6,8],[13.35,7.95],[13,7.75],[14.2,7.95],[13.7,7.75],[14.05,7.45],[12.7,7.5],[12.5,7.5],[13.45,7.4],[13.5,7.45],[12.85,7.25],[12,7.1],[11.7,7.55],[11.45,7.5],[11,7.55],[10.45,7.55],[10.65,8.3],[11.5,8.3],[11.95,8.75],[12.5,7],[12.5,6.8],[12.5,6.45],[13.9,7],[13.85,6.75],[13.7,6.7],[13.7,6.35],[13.6,6.2],[13.4,5.8],[11.6,6.05],[11.5,6],[11.2,5.95],[10.7,6.1],[11,5.65],[10.85,5.5],[10.7,5.3],[10.45,5.2],[10.3,5.15],[11,5.35],[9.0,5.8],[8.65,5.1],[8.7,4.5],[8.5,4.3],[8.2,4.1],[9.55,4],[9.1,3.7],[8.85,3.7],[8.75,3.4],[8.9,3.6],[11,4.2],[11.2,4],[11.2,3.85],[10.6,3.9],[13.45,3.45],[5.3,3.15],[5.5,3.1],[6.2,2.6],[8.9,2.7],[8.95,2.6],[9,2.5],[8.9,2.4],[9,2.3],[8.8,2.3],[8.6,2],[10.05,1.58],[5.2,1.58],[8.65,1],[8.8,1],[8.9,1],[8.95,1],[9.05,1],[6.55,0],[6.6,0],[8.6,0],[8.75,0],[8.85,0],[9,0],[9.15,0],[9.3,0],[2,2.55],[1.58,2.95],[1.58,3],[2.4,1.58],[2.6,1.58],[4.2,1],[6.2,4],[7.35,4.8],[8.5,4.8]];
const cdYrna = [[13.4,18.45],[13,15.5],[15.55,14.7],[9.7,12.6]];

// what panel d shows on top of panel c
const dExtraSnrna = [[12.4,9.8],[12.5,9.5],[12.4,9.1],[11.8,9],[11.3,8.9],[11.9,8.45],[11.7,8.3],[11.9,8.05],[12.1,8.2],[12.3,8.05],[12.5,8.1],[12.7,8.1],[12.9,8.15],[13.2,7.7],[12.3,7.85],[11.85,7.7],[10.7,7.7],[10.8,7.85],[11,7.95],[11.15,7.6],[10.5,7.4],[10.6,7.2],[10.9,7.3],[11.15,7.3],[11.6,7.3],[12.15,7.5],[12.4,7.35],[13,7.1],[13.3,7.1],[12.4,6.8],[12.1,6.9],[12.25,6.4],[12.45,6.2],[12.6,6.35],[12,6.6],[11.9,6.2],[11.5,6.5],[11.4,6.2],[11.2,6.55],[10.9,6.85],[10.2,6.8],[10,6.5],[9.7,6.3],[9.4,6.6],[9,6.4],[8.8,6.1],[8.4,5.9],[8.2,5.7],[8,5.3],[7.7,5.3],[7.2,5.15],[7,4.95],[7.5,4.7],[8,4.9],[8.3,5],[8.5,5.2],[8.7,5.4],[9,5.3],[9.2,5.2],[9.4,5.45],[9.6,5.3],[9.9,5.2],[10.1,5.4],[10.35,5.6],[10.6,5.75],[10.9,5.95],[11.3,5.5],[11.5,5.6],[11.7,5.35],[11.9,5.3],[12,5.5],[12.6,5.7],[12.85,5.8],[13.1,5.9],[13.2,5.6],[13.3,5.4],[13,5.2],[12.7,5.2],[12.4,5.05],[12.1,4.95],[11.9,4.7],[11.75,4.5],[11.4,4.85],[11.1,5.1],[10.9,4.8],[10.6,4.75],[10.4,4.4],[10,4.6],[9.6,4.7],[9.3,4.5],[9.1,4.3],[8.9,4.6],[8.7,4.15],[8.4,4.05],[8.2,4.5],[7.9,4.3],[7.3,4.15],[7,4.1],[6.9,3.8],[6.6,3.75],[6.4,3.5],[6.05,3.4],[5.85,3.2],[5.6,3],[5.3,3],[5.1,3.4],[5,3.7],[4.6,4],[4.8,4.3],[5.4,4.6],[5.7,4.2],[6,4.5],[6.4,4.15],[9.6,3.9],[9.9,3.8],[10.2,3.6],[10.5,3.4],[10.9,3.7],[11.2,3.45],[11.5,3.7],[11.85,3.9],[12.2,4],[12.5,3.9],[12.8,3.7],[13.1,4],[13.45,3.45],[13,3.4],[12.85,3.2],[12.65,3],[12.9,2.9],[12.6,2.6],[12.4,2.6],[11.9,2.6],[11.75,2.6],[11.6,2.9],[11.2,3],[11.1,2.85],[10.7,2.6],[10.5,3],[10.1,3],[9.9,2.6],[9.5,3],[9.2,3.2],[8.9,3.1],[8.7,3.2],[8.3,2.9],[8,3],[7.7,3.2],[7.4,3.35],[7,3.3],[6.8,3],[6.3,2.6],[6.1,2.6],[8.2,2.6],[8.6,2.6],[9.3,2.6],[9.7,2.3],[10.1,2.6],[10.3,2.3],[12.5,2.8],[8,2.3],[7.8,2.3],[7.5,2.3],[7.2,2.3],[9,2.1],[10.5,2],[10.6,2],[11.8,2],[9.6,2],[9.9,2],[9.4,2],[9.1,2],[8.7,2],[8.4,2],[8.1,2],[7.8,2],[7.5,2],[7.1,2],[6.9,2],[6.45,2],[6.2,2],[5.5,2],[5.1,2],[5.3,2],[4.6,2],[6.5,1.58],[7.8,1.58],[8.2,1.58],[8.35,1.58],[8.6,1.58],[8.8,1.58],[9,1.58],[9.35,1.58],[9.6,1.58],[9.9,1.58],[10.2,1.58],[10.6,1.58],[11,1.58],[11.3,1.58],[11.7,1.58],[5.2,1.58],[6.2,1],[5,1],[5.25,1],[5.5,1],[5.7,1],[6.15,1],[7,1],[7.2,1],[7.6,1],[7.8,1],[8.05,1],[8.2,1],[8.4,1],[8.6,1],[8.75,1],[8.9,1],[9.2,1],[9.4,1],[9.6,1],[10,1],[10.2,1],[10.8,1],[11,1],[11.5,1],[11.65,1],[12,1],[4.7,0],[4.9,0],[5.1,0],[5.3,0],[6.7,0],[6.9,0],[7.1,0],[7.3,0],[7.5,0],[7.7,0],[8.9,0],[9.2,0],[9.5,0],[9.65,0],[10,0],[10.2,0],[10.9,0],[11.1,0],[11.3,0],[11.6,0],[12,0],[4.85,7],[5.3,6.35],[5.5,8.6],[5.1,9],[4,8.2],[4.4,8.5],[2.85,7.9],[3.7,4.2],[2.2,7.7],[1.58,3.2],[1.58,2.9],[0,1.6],[1,1.58],[2,3],[2.8,1.58],[3.9,1.58],[9.1,7.1],[9.6,7.2],[9.8,7],[10.1,7.4],[10.4,8.7],[10.7,8.2],[11,8.6],[11.3,8.1],[10.2,9.2],[9.3,8.1],[8.7,6.8],[8.3,6.6],
  [11.05,7.6],[11.2,7.85],[11.4,7.8],[10.95,7.45],[11.35,7.15],[10.75,6.95],[9.9,6.85],[9.5,6.9],[9.2,6.7],[8.85,6.7],[8.55,6.4],[8.3,6.2],[8.05,5.9],[7.8,5.55],[7.55,5.1],[7.35,5.4],[8.9,5.65],[9.1,5.5],[9.35,5.05],[9.6,4.95],[9.85,4.9],[10.15,5],[10.35,4.9],[10.6,5.1],[10.8,5.3],[11.2,5.25],[11.45,5.25],[11.6,5],[11.85,5],[12.2,5.3],[12.35,5.5],[11,4.5],[11.2,4.6],[11.5,4.4],[10.75,4.35],[10.55,4.15],[10.2,4.15],[9.85,4.3],[9.5,4.2],[9.3,4.05],[9,3.95],[8.75,3.85],[8.5,3.55],[8.2,3.4],[7.95,3.6],[7.7,3.75],[7.5,3.6],[7.25,3.65],[10.3,3.9],[10.65,3.55],[10.95,3.2],[11.4,3.1],[11.75,3.3],[10.4,3.2],[10.15,3.3],[9.85,3.3],[9.6,3.35],[9.3,3.4],[9.05,3.5],[8.8,2.85],[9.1,2.85],[9.45,2.6],[9.65,2.7],[8.4,2.6],[8,2.6],[7.6,2.6],[7.4,2.6],[6.9,2.6],[6.5,2.6],[10.3,2.85],[11.5,2.6],[10.9,2.6],[12.25,3.35],[12.5,3.4],[12.45,4.4],[12.15,4.55],[11.3,3.95],[8.95,2.3],[8.6,2.3],[8.3,2.3],[9.25,2.3],[9.45,2.3],[9.95,2.3],[8.95,2],[8.55,2],[8.25,2],[7.95,2],[7.65,2],[7.3,2],[5.7,1.58],[5.85,1.58],[7.95,1.58],[8.1,1.58],[8.5,1.58],[8.7,1.58],[8.9,1.58],[9.15,1.58],[9.5,1.58],[9.75,1.58],[10.35,1.58],[7.9,1],[8.1,1],[8.3,1],[8.5,1],[8.85,1],[9.05,1],[9.3,1],[9.5,1],[9.75,1],[9.9,1],[5.4,1],[5.85,1],[6.05,1],[6.4,1],[6.7,1],[7.4,1],[5.15,0],[5.25,0],[5.45,0],[5.65,0],[6.2,0],[6.4,0],[6.6,0],[6.8,0],[7,0],[7.2,0],[7.4,0],[7.6,0],[8.8,0],[9,0],[9.1,0],[9.35,0],[9.6,0],[11,0],[11.2,0],[11.45,0]];
const dExtraSnorna = [[9.5,5.8],[9.6,5.6],[9.8,5.75],[9.95,5.9],[10.05,5.7],[10.3,5.55],[10.4,5.6],[10.5,5.8],[10.6,6],[10.35,5.45],[10.7,5.8],[9.8,6.3],[9.85,6.05],[9.95,5.4],[10.05,5.3],[10.45,6.3],[11,6.05],[9.45,6],[7.5,8],[8.2,7.9],[8.3,8.4],[8.75,6.6],[8.85,6.5],[10.1,3.9],[10.5,4.3],[10.45,3.55],[9.4,3.5],[9.3,3.55],[8.4,3.7],[8.7,3],[8.9,2.9],[8.95,3.05],[7,3],[7.2,2.6],[7,2.75],[7.6,3.5],[7.4,3.85],[7.6,3.9],[7.7,4.4],[7.2,4.3],[7.3,4.05],[4.7,3.5],[3.45,2.9],[3.4,3.6],[3.6,3.9],[3.25,4.6],[2.95,4.65],[2.85,7.55],[3.2,7.55],[2.3,6.3],[2,7.1],[2,9.5],[2.2,9.3],[2.8,6.35],[0,8.75],[0,8.6],[0,7.9],[0,7.7],[0,6.9],[0,6.1],[0,5.5],[0,5.4],[0,5.3],[0,5.2],[0,4.95],[0,4.7],[0,3.4],[0,2.9],[0,2.3],[0,1.58],[1,1.58],[1,1],[1,0],[1,8.7],[1,7.85],[1,4.8],[1.58,2.3],[2.8,1],[3.2,1],[5.85,0],[5.95,0],[6.6,1.58],[5.9,2],[6.7,0],[7.3,0],[7.7,1.58],[8.6,1.58],[8.6,1],[7.6,1],[5.6,1.58],[5.95,1.58],[6.55,2.3],[9.4,0],[9.4,2],
  [11.2,12.8],[11.25,12.85],[11.5,13.1],[11.7,13.1],[11.8,13.1],[11.8,12.8],[12.3,12.8],[12.4,13.1],[8.55,12.85],[8.7,12.7],[8.35,12.3],[8.6,12],[8.75,12.1],[9.35,12.7],[8.55,11.2],[8.3,10.85],[8.2,10.5],[7.85,10.4],[9.35,9.9],[9.15,9.6],[8.7,9.75],[8.3,9.45],[7.6,9.2],[7.3,9.3],[7.05,9.25],[6.85,9.05],[9.1,8.7],[9.2,7.9],[9.5,7.95],[8.1,7.75],[7.6,7.3],[6.95,7.2],[6.55,6.5],[7.1,6.3]];

// layout of the four axes: left, top, width, height of the framed area
const panels = [
  { box: [97, 106, 418, 431], rows: [abRrna, abTrna, abSnorna, abMirna, abSnrna, abYrna] },
  { box: [638, 108, 418, 431], rows: [abRrna, abTrna, abSnorna.concat(bExtraSnorna), abMirna, abSnrna.concat(bExtraSnrna), abYrna] },
  { box: [101, 667, 413, 423], rows: [cdRrna, cdTrna, cdSnorna, cdMirna, cdSnrna, cdYrna] },
  { box: [636, 667, 419, 423], rows: [cdRrna, cdTrna, cdSnorna.concat(dExtraSnorna), cdMirna, cdSnrna.concat(dExtraSnrna), cdYrna] }
];

const pointColors = ['rgba(0,128,0,0.55)', 'rgba(85,85,85,0.5)', 'rgba(0,0,255,0.55)', 'rgba(255,0,0,0.52)', 'rgba(191,191,0,0.6)', 'rgba(0,191,191,0.55)'];
const legendColors = ['#008000', '#808080', '#0000ff', '#ff0000', '#c8c800', '#33cccc'];
// first dataset is drawn last in Chart.js, so it ends up on top
const drawOrder = [5, 2, 1, 3, 0, 4];

// matplotlib style frame, ticks point inward on all four sides
const framePlugin = {
  id: 'frame',
  afterDraw(chart) {
    const { ctx, chartArea: a, scales } = chart;
    ctx.save();
    ctx.strokeStyle = '#444';
    ctx.lineWidth = 1;
    ctx.beginPath();
    tickValues.forEach(v => {
      const x = Math.round(scales.x.getPixelForValue(v)) + 0.5;
      const y = Math.round(scales.y.getPixelForValue(v)) + 0.5;
      ctx.moveTo(x, a.top); ctx.lineTo(x, a.top + 5);
      ctx.moveTo(x, a.bottom); ctx.lineTo(x, a.bottom - 5);
      ctx.moveTo(a.left, y); ctx.lineTo(a.left + 5, y);
      ctx.moveTo(a.right, y); ctx.lineTo(a.right - 5, y);
    });
    ctx.stroke();
    ctx.strokeStyle = '#555';
    ctx.lineWidth = 1.6;
    ctx.strokeRect(a.left, a.top, a.right - a.left, a.bottom - a.top);
    ctx.restore();
  }
};

function axis(fitKey, fitSize) {
  return {
    type: 'linear',
    min: -1,
    max: 22,
    afterBuildTicks: s => { s.ticks = tickValues.map(v => ({ value: v })); },
    afterFit: s => { s[fitKey] = fitSize; },
    grid: { display: false, drawTicks: false },
    border: { display: false },
    ticks: { color: '#222', padding: 4, maxRotation: 0, font: { family: 'DejaVu Sans', size: 13 } }
  };
}

const page = document.getElementById('page');
const marginLeft = 40, marginTop = 10, marginRight = 10, marginBottom = 30;

panels.forEach(p => {
  const [left, top, w, h] = p.box;
  const canvas = document.createElement('canvas');
  canvas.width = w + marginLeft + marginRight;
  canvas.height = h + marginTop + marginBottom;
  canvas.style.left = (left - marginLeft) + 'px';
  canvas.style.top = (top - marginTop) + 'px';
  page.appendChild(canvas);
  new Chart(canvas.getContext('2d'), {
    type: 'scatter',
    data: {
      datasets: drawOrder.map(i => ({
        label: legendNames[i],
        data: p.rows[i],
        backgroundColor: pointColors[i],
        borderWidth: 0,
        pointRadius: 3.5
      }))
    },
    options: {
      responsive: false,
      animation: false,
      layout: { padding: { top: marginTop, right: marginRight, left: 0, bottom: 0 } },
      plugins: { legend: { display: false }, tooltip: { enabled: false } },
      scales: { x: axis('height', marginBottom), y: axis('width', marginLeft) }
    },
    plugins: [framePlugin]
  });
});

// text around the charts
const labels = [
  ['Reads collapsed to', 307, 20, 32, 0], ['individual transcripts', 307, 58, 32, 0], ['All sequences represented', 849, 60, 32, 0],
  ['a)', 41, 70, 37, 0], ['b)', 610, 68, 37, 0], ['c)', 40, 644, 37, 0], ['d)', 609, 643, 37, 0],
  ['AGO IP (non-multimapped)', 315, 581, 24, 0], ['Log2 read counts', 315, 610, 24, 0],
  ['AGO IP (non-multimapped)', 861, 582, 24, 0], ['Log2 read counts', 861, 610, 24, 0],
  ['AGO IP - (Log2 read counts)', 323, 1136, 21.6, 0], ['AGO IP - (Log2 read counts)', 867, 1138, 21.6, 0],
  ['AGO IP (multimap permitting)', 22, 310, 24.2, 1], ['Log2 read counts', 50, 311, 24, 1],
  ['AGO IP (multimap permitting)', 567, 310, 24.2, 1], ['Log2 read counts', 595, 311, 24, 1],
  ['sRNA-Seq – (Log2 read counts)', 51, 883, 21.6, 1], ['sRNA-Seq – (Log2 read counts)', 595, 885, 21.6, 1]
];
labels.forEach(([text, x, y, size, rot]) => {
  const el = document.createElement('div');
  el.className = rot ? 'txt rot' : 'txt';
  el.textContent = text;
  el.style.left = x + 'px';
  el.style.top = y + 'px';
  el.style.fontSize = size + 'px';
  page.appendChild(el);
});

// legend, hand placed in the original figure
const legendDotX = [1068, 1069, 1069, 1069, 1069, 1068];
const legendTextX = [1087, 1088, 1087, 1090, 1088, 1088];
const legendY = [265, 296, 326, 356, 386, 416];
legendNames.forEach((name, i) => {
  const d = document.createElement('div');
  d.className = 'dot';
  d.style.left = legendDotX[i] + 'px';
  d.style.top = legendY[i] + 'px';
  d.style.background = legendColors[i];
  page.appendChild(d);
  const t = document.createElement('div');
  t.className = 'leg';
  t.textContent = name;
  t.style.left = legendTextX[i] + 'px';
  t.style.top = legendY[i] + 'px';
  page.appendChild(t);
});
</script>
</body>
</html>
